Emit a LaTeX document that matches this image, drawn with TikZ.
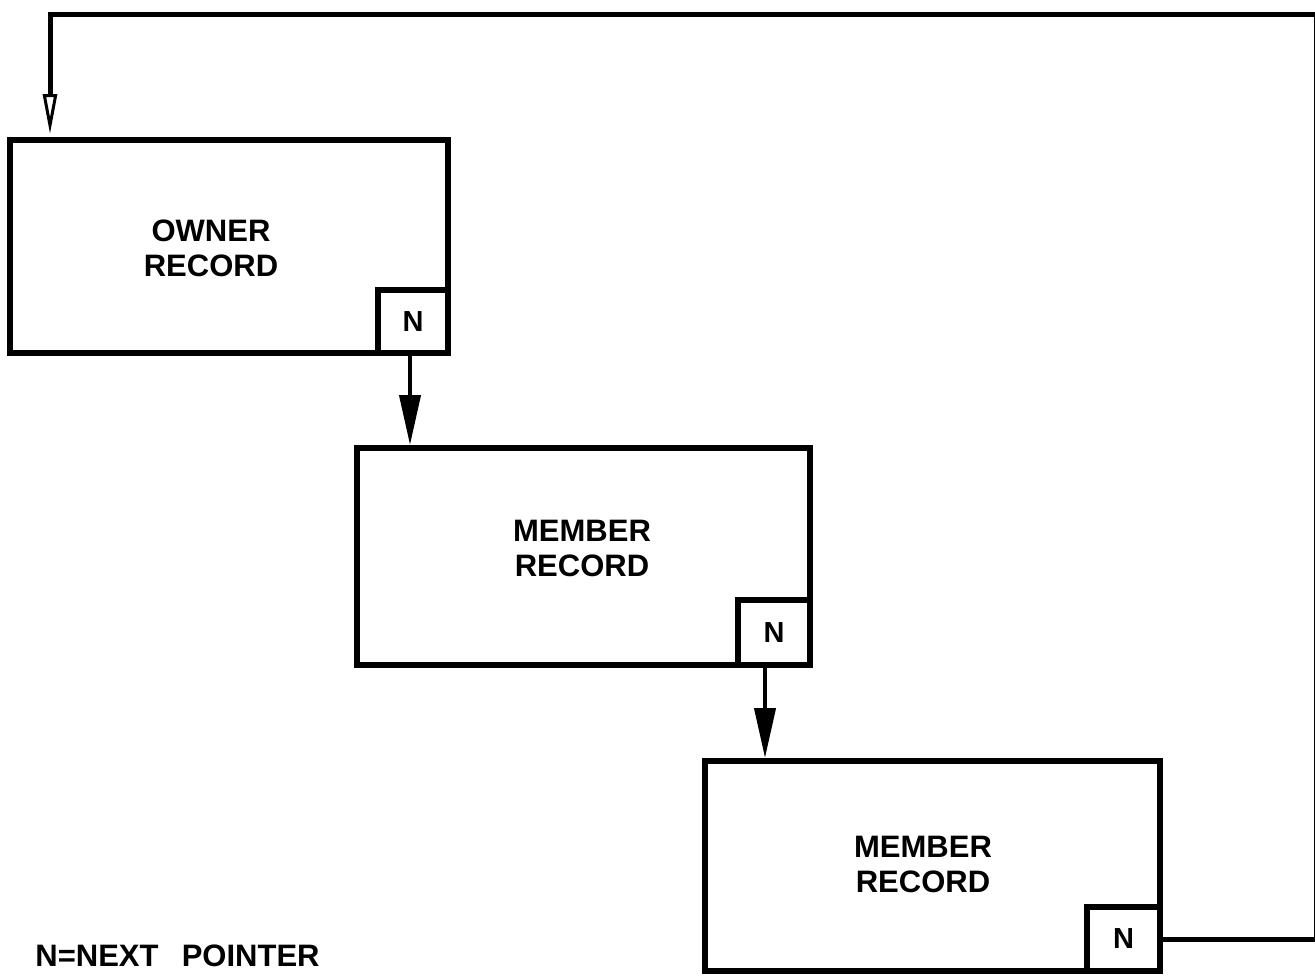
\documentclass[tikz,border=0pt]{standalone}
\usepackage{fontspec}
\setmainfont{Liberation Sans}
\usetikzlibrary{arrows.meta}
\begin{document}
\begin{tikzpicture}[x=0.5pt,y=-0.5pt,
  recbox/.style={draw=black,line width=3pt,fill=white,inner sep=0pt,rectangle},
  ptrbox/.style={draw=black,line width=3pt,fill=white,inner sep=0pt,rectangle,
    font=\fontsize{14.5}{16}\selectfont\bfseries},
  lbl/.style={align=center,inner sep=0pt,font=\fontsize{15.5}{17.5}\selectfont\bfseries},
  arr/.style={line width=2pt,-{Triangle[length=25pt,width=10.5pt]}},
  ret/.style={line width=2.5pt,-{Triangle[open,length=20pt,width=7pt,line width=1.5pt]}}]
\useasboundingbox (0,0) rectangle (1315,975);
% records
\node[recbox,minimum width=219pt,minimum height=106.5pt] (owner) at (229,246.5) {};
\node[recbox,minimum width=226.5pt,minimum height=108.5pt] (m1) at (583.5,556.5) {};
\node[recbox,minimum width=227.5pt,minimum height=105pt] (m2) at (932.5,866) {};
% pointer fields
\node[ptrbox,minimum width=35pt,minimum height=31.5pt] (n1) at (413,321.5) {N};
\node[ptrbox,minimum width=36pt,minimum height=32.5pt] (n2) at (774,632.5) {N};
\node[ptrbox,minimum width=36.5pt,minimum height=32pt] (n3) at (1123.5,939) {N};
% labels
\node[lbl] (t1) at (211,248) {OWNER\\RECORD};
\node[lbl] (t2) at (582,548) {MEMBER\\RECORD};
\node[lbl] (t3) at (923,864) {MEMBER\\RECORD};
\node[lbl,anchor=west] (legend) at (35,956) {N=NEXT\hspace{0.75em}POINTER};
% next pointers
\draw[arr] ([xshift=-1.5pt]n1.south) -- ([xshift=-1.5pt]n1.south |- m1.north);
\draw[arr] ([xshift=-4.5pt]n2.south) -- ([xshift=-4.5pt]n2.south |- m2.north);
% return to owner
\coordinate (re) at (1316,939);
\coordinate (tl) at (50,14);
\draw[ret] (n3.east) -- (re) |- (tl) -- ([yshift=1.5pt]tl |- owner.north);
\end{tikzpicture}
\end{document}
